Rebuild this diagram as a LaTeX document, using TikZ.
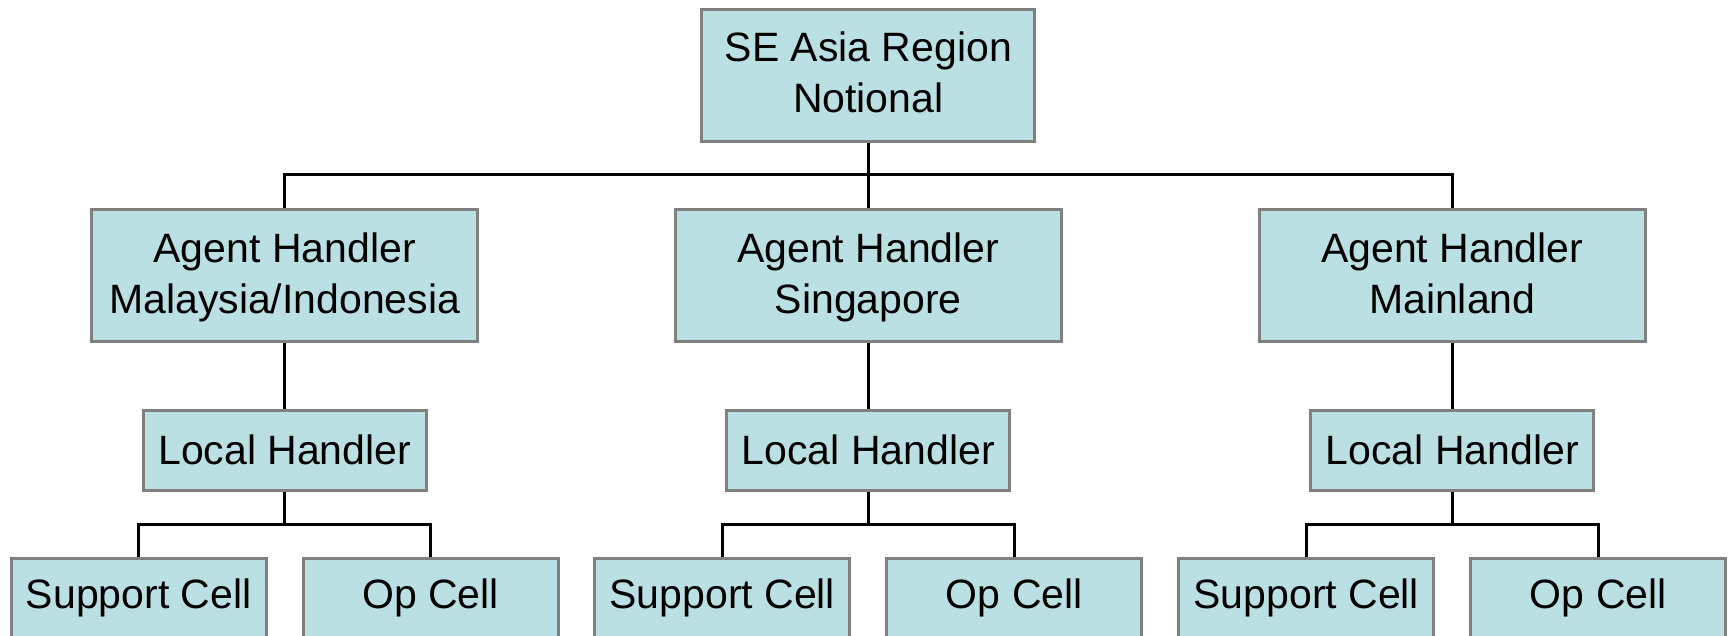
\documentclass[tikz,border=0pt]{standalone}
\usepackage{fontspec}
\setmainfont{Liberation Sans}
\definecolor{boxfill}{RGB}{187,224,227}
\definecolor{boxline}{RGB}{128,128,128}
\newcommand{\ls}{\rule[-13.2pt]{0pt}{51pt}}
\begin{document}
\begin{tikzpicture}[x=1pt,y=-1pt,
  box/.style={draw=boxline, line width=3pt, fill=boxfill, inner sep=0pt,
    align=center, font=\fontsize{41}{51}\selectfont},
  bigbox/.style={box, minimum width=386pt, minimum height=132pt},
  topbox/.style={box, minimum width=333pt, minimum height=132pt},
  lhbox/.style={box, minimum width=283pt, minimum height=80pt},
  cellbox/.style={box, minimum width=255pt, minimum height=80pt},
  conn/.style={draw=black, line width=3pt}]
\useasboundingbox (0,0) rectangle (1730,635);
\clip (0,0) rectangle (1730,635);
\fill[white] (0,0) rectangle (1730,635);

% top
\node[topbox] (top) at (868.3,75) {\ls SE Asia Region\\\ls Notional};

% agent handlers
\node[bigbox] (ah1) at (284.7,275.8) {\ls Agent Handler\\\ls Malaysia/Indonesia};
\node[bigbox] (ah2) at (868.3,275.8) {\ls Agent Handler\\\ls Singapore};
\node[bigbox] (ah3) at (1452.3,275.8) {\ls Agent Handler\\\ls Mainland};

% local handlers
\node[lhbox] (lh1) at (284.7,450) {Local Handler};
\node[lhbox] (lh2) at (868.3,450) {Local Handler};
\node[lhbox] (lh3) at (1452.3,450) {Local Handler};

% cells
\node[cellbox] (s1) at (138.7,598) {Support Cell};
\node[cellbox] (o1) at (430.7,598) {Op Cell};
\node[cellbox] (s2) at (722.3,598) {Support Cell};
\node[cellbox] (o2) at (1014.3,598) {Op Cell};
\node[cellbox] (s3) at (1306.3,598) {Support Cell};
\node[cellbox] (o3) at (1598.3,598) {Op Cell};

% bus coordinates
\coordinate (bus0) at (868.3,174);
\coordinate (bus1) at (284.7,524);
\coordinate (bus2) at (868.3,524);
\coordinate (bus3) at (1452.3,524);

% connectors
\draw[conn] (top.south) -- (ah2.north);
\draw[conn] (ah1.north) |- (bus0) -| (ah3.north);
\draw[conn] (ah1.south) -- (lh1.north);
\draw[conn] (ah2.south) -- (lh2.north);
\draw[conn] (ah3.south) -- (lh3.north);
\draw[conn] (lh1.south) -- (bus1);
\draw[conn] (lh2.south) -- (bus2);
\draw[conn] (lh3.south) -- (bus3);
\draw[conn] (s1.north) |- (bus1) -| (o1.north);
\draw[conn] (s2.north) |- (bus2) -| (o2.north);
\draw[conn] (s3.north) |- (bus3) -| (o3.north);
\end{tikzpicture}
\end{document}
